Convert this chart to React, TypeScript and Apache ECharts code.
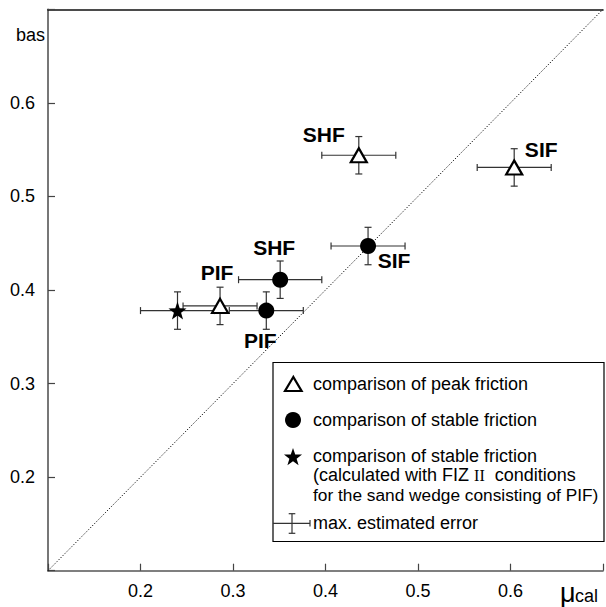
import React, { useEffect, useRef } from "react";
import * as echarts from "echarts";

// ---- data ----
const peakNames = ["PIF", "SHF", "SIF"];
const peakX = [0.286, 0.436, 0.604];
const peakY = [0.383, 0.544, 0.531];
const peakXErr = [0.04, 0.04, 0.04];
const peakYErr = [0.02, 0.02, 0.02];

const stableNames = ["PIF", "SHF", "SIF"];
const stableX = [0.336, 0.351, 0.446];
const stableY = [0.378, 0.411, 0.447];
const stableXErr = [0.04, 0.045, 0.04];
const stableYErr = [0.02, 0.02, 0.02];

const starX = [0.240];
const starY = [0.378];
const starXErr = [0.04];
const starYErr = [0.02];

const diagonal = [
  [0.1, 0.1],
  [0.7, 0.7],
];

const axisMin = 0.1;
const axisMax = 0.7;
const axisStep = 0.1;

const legendLines = [
  "comparison of peak friction",
  "comparison of stable friction",
  "comparison of stable friction",
  "max. estimated error",
];

// ---- styles (label offsets etc.) ----
const peakLabelOffsets = [
  [-3, -33],
  [-35, -21],
  [27, -18],
];
const stableLabelOffsets = [
  [-6, 30],
  [-6, -32],
  [26, 14],
];

const FONT = "'Liberation Sans', Arial, Helvetica, sans-serif";
const FS = 18;

function starPoints(cx: number, cy: number, R: number, r: number) {
  const pts: number[][] = [];
  for (let i = 0; i < 10; i++) {
    const rad = i % 2 === 0 ? R : r;
    const a = -Math.PI / 2 + (i * Math.PI) / 5;
    pts.push([cx + rad * Math.cos(a), cy + rad * Math.sin(a)]);
  }
  return pts;
}
const starSymbol =
  "path://" +
  starPoints(50, 50, 50, 20)
    .map((p, i) => (i === 0 ? "M" : "L") + p[0].toFixed(2) + " " + p[1].toFixed(2))
    .join(" ") +
  " Z";

export default function App() {
  const ref = useRef<HTMLDivElement>(null);
  useEffect(() => {
    if (!ref.current) return;
    const chart = echarts.init(ref.current, null, { renderer: "svg" });

    const errData = [
      ...peakX.map((x, i) => [x, peakY[i], peakXErr[i], peakYErr[i]]),
      ...stableX.map((x, i) => [x, stableY[i], stableXErr[i], stableYErr[i]]),
      ...starX.map((x, i) => [x, starY[i], starXErr[i], starYErr[i]]),
    ];

    const labelStyle = {
      show: true,
      position: "inside",
      fontFamily: FONT,
      fontWeight: "bold",
      fontSize: 21,
      color: "#000",
    };

    const cap = 3.5;
    const errColor = "#333";

    const option: any = {
      animation: false,
      backgroundColor: "#fff",
      grid: { left: 48, top: 9.3, width: 561.6, height: 561.4, containLabel: false },
      xAxis: [
        {
          type: "value",
          min: axisMin,
          max: axisMax,
          interval: axisStep,
          position: "bottom",
          axisLine: { show: true, onZero: false, lineStyle: { color: "#555", width: 1.6 } },
          axisTick: { show: true, inside: true, length: 7, lineStyle: { color: "#444", width: 1.2 } },
          axisLabel: {
            margin: 11,
            fontSize: FS,
            fontFamily: FONT,
            color: "#000",
            formatter: (v: number) => (v < 0.15 || v > 0.65 ? "" : v.toFixed(1)),
          },
          splitLine: { show: false },
        },
        {
          type: "value",
          min: axisMin,
          max: axisMax,
          position: "top",
          axisLine: { show: true, onZero: false, lineStyle: { color: "#111", width: 1.6 } },
          axisTick: { show: false },
          axisLabel: { show: false },
          splitLine: { show: false },
        },
      ],
      yAxis: {
        type: "value",
        min: axisMin,
        max: axisMax,
        interval: axisStep,
        axisLine: { show: true, onZero: false, lineStyle: { color: "#555", width: 1.6 } },
        axisTick: { show: true, inside: true, length: 7, lineStyle: { color: "#444", width: 1.2 } },
        axisLabel: {
          margin: 13,
          fontSize: FS,
          fontFamily: FONT,
          color: "#000",
          formatter: (v: number) => (v < 0.15 || v > 0.65 ? "" : v.toFixed(1)),
        },
        splitLine: { show: false },
      },
      series: [
        {
          type: "line",
          data: diagonal,
          symbol: "none",
          lineStyle: { color: "#000", width: 1, type: [1.2, 1.8] },
          z: 1,
          silent: true,
        },
        {
          type: "custom",
          data: errData,
          z: 2,
          renderItem: (params: any, api: any) => {
            const x = api.value(0);
            const y = api.value(1);
            const ex = api.value(2);
            const ey = api.value(3);
            const l = api.coord([x - ex, y]);
            const r = api.coord([x + ex, y]);
            const t = api.coord([x, y + ey]);
            const b = api.coord([x, y - ey]);
            const st = { stroke: errColor, lineWidth: 1.2 };
            return {
              type: "group",
              children: [
                { type: "line", shape: { x1: l[0], y1: l[1], x2: r[0], y2: r[1] }, style: st },
                { type: "line", shape: { x1: l[0], y1: l[1] - cap, x2: l[0], y2: l[1] + cap }, style: st },
                { type: "line", shape: { x1: r[0], y1: r[1] - cap, x2: r[0], y2: r[1] + cap }, style: st },
                { type: "line", shape: { x1: t[0], y1: t[1], x2: b[0], y2: b[1] }, style: st },
                { type: "line", shape: { x1: t[0] - cap, y1: t[1], x2: t[0] + cap, y2: t[1] }, style: st },
                { type: "line", shape: { x1: b[0] - cap, y1: b[1], x2: b[0] + cap, y2: b[1] }, style: st },
              ],
            };
          },
        },
        {
          type: "scatter",
          name: "peak",
          symbol: "triangle",
          symbolSize: [16, 14],
          itemStyle: { color: "#fff", borderColor: "#000", borderWidth: 2.2, opacity: 1 },
          z: 3,
          data: peakX.map((x, i) => ({
            value: [x, peakY[i]],
            label: { ...labelStyle, formatter: peakNames[i], offset: peakLabelOffsets[i] },
          })),
        },
        {
          type: "scatter",
          name: "stable",
          symbol: "circle",
          symbolSize: 16,
          itemStyle: { color: "#000", opacity: 1 },
          z: 3,
          data: stableX.map((x, i) => ({
            value: [x, stableY[i]],
            label: { ...labelStyle, formatter: stableNames[i], offset: stableLabelOffsets[i] },
          })),
        },
        {
          type: "scatter",
          name: "star",
          symbol: starSymbol,
          symbolSize: 18,
          itemStyle: { color: "#000", opacity: 1 },
          z: 3,
          data: starX.map((x, i) => [x, starY[i]]),
        },
      ],
      graphic: [
        {
          type: "text",
          left: 16,
          top: 26,
          style: { text: "bas", fontSize: FS, fontFamily: FONT, fill: "#000" },
        },
        {
          type: "text",
          x: 560,
          y: 579,
          style: { text: "μ", fontSize: 27, fontFamily: FONT, fill: "#000" },
        },
        {
          type: "text",
          x: 575,
          y: 587,
          style: { text: "cal", fontSize: 18, fontFamily: FONT, fill: "#000" },
        },
        {
          type: "group",
          z: 100,
          children: [
            {
              type: "rect",
              shape: { x: 273, y: 362.5, width: 331, height: 179 },
              style: { fill: "#fff", stroke: "#000", lineWidth: 1.2 },
            },
            {
              type: "polygon",
              shape: { points: [[293.3, 377], [285, 391], [301.6, 391]] },
              style: { fill: "#fff", stroke: "#000", lineWidth: 2.2 },
            },
            {
              type: "circle",
              shape: { cx: 293, cy: 420, r: 8 },
              style: { fill: "#000" },
            },
            {
              type: "polygon",
              shape: { points: starPoints(293, 457.5, 9.5, 3.8) },
              style: { fill: "#000" },
            },
            {
              type: "group",
              children: [
                { type: "line", shape: { x1: 273, y1: 523.3, x2: 310, y2: 523.3 }, style: { stroke: errColor, lineWidth: 1.2 } },
                { type: "line", shape: { x1: 310, y1: 520, x2: 310, y2: 526.6 }, style: { stroke: errColor, lineWidth: 1.2 } },
                { type: "line", shape: { x1: 292, y1: 513.7, x2: 292, y2: 533.3 }, style: { stroke: errColor, lineWidth: 1.2 } },
                { type: "line", shape: { x1: 288.7, y1: 513.7, x2: 295.3, y2: 513.7 }, style: { stroke: errColor, lineWidth: 1.2 } },
                { type: "line", shape: { x1: 288.7, y1: 533.3, x2: 295.3, y2: 533.3 }, style: { stroke: errColor, lineWidth: 1.2 } },
              ],
            },
            {
              type: "text",
              x: 313,
              y: 384,
              style: { text: legendLines[0], fontSize: FS, fontFamily: FONT, fill: "#000", verticalAlign: "middle" },
            },
            {
              type: "text",
              x: 313,
              y: 420,
              style: { text: legendLines[1], fontSize: FS, fontFamily: FONT, fill: "#000", verticalAlign: "middle" },
            },
            {
              type: "text",
              x: 313,
              y: 446,
              style: {
                text:
                  "{a|" + legendLines[2] + "}" +
                  "\n{a|(calculated with FIZ }{s|II}{a|  conditions}\n{b|for the sand wedge consisting of PIF)}",
                fontSize: FS,
                fontFamily: FONT,
                fill: "#000",
                verticalAlign: "top",
                lineHeight: 19.5,
                rich: {
                  a: { fontSize: FS, fontFamily: FONT, fill: "#000", lineHeight: 19.5 },
                  b: { fontSize: 17.3, fontFamily: FONT, fill: "#000", lineHeight: 19.5 },
                  s: { fontSize: 16, fontFamily: "'Liberation Serif', 'DejaVu Serif', serif", fill: "#000", lineHeight: 19.5 },
                },
              },
            },
            {
              type: "text",
              x: 313,
              y: 523,
              style: { text: legendLines[3], fontSize: FS, fontFamily: FONT, fill: "#000", verticalAlign: "middle" },
            },
          ],
        },
      ],
    };
    chart.setOption(option);
    return () => chart.dispose();
  }, []);

  return (
    <div
      ref={ref}
      style={{ position: "fixed", left: 0, top: 0, width: 606, height: 607, background: "#fff" }}
    />
  );
}
